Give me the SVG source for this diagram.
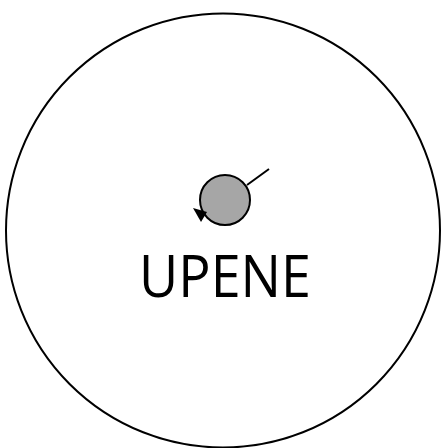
<svg xmlns="http://www.w3.org/2000/svg" width="446" height="448" viewBox="0 0 446 448">
<style>
.outline{fill:none;stroke:#000;stroke-width:2}
.lbl{font-family:"Open Sans","Noto Sans",sans-serif;font-size:58px;fill:#000}
</style>
<rect width="446" height="448" fill="#fff"/>
<g id="state">
<circle class="outline" cx="223" cy="230.5" r="217"/>
<text class="lbl" x="225" y="297" text-anchor="middle" textLength="172" lengthAdjust="spacingAndGlyphs">UPENE</text>
</g>
<g id="connectors">
<circle cx="225" cy="200" r="25" fill="#a6a6a6" stroke="#000" stroke-width="2"/>
<line x1="247" y1="185" x2="269" y2="169" stroke="#000" stroke-width="2"/>
<polygon points="193,208 207,212 201,222" fill="#000"/>
</g>
</svg>
